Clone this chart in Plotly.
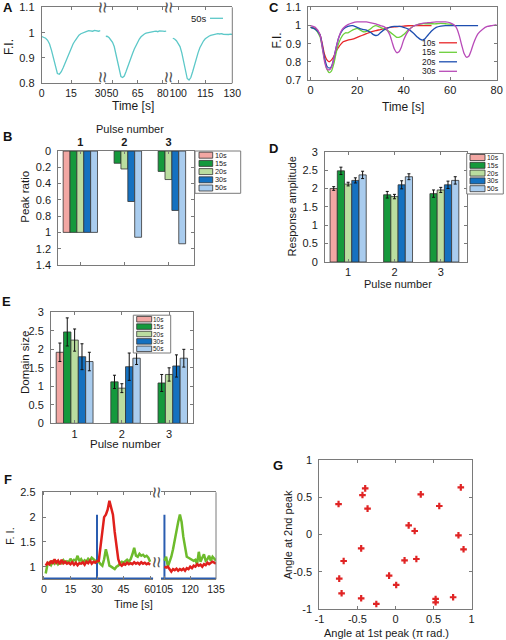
import plotly.graph_objects as go

W, H = 506, 640
FONT = "Liberation Sans, Arial, Helvetica, sans-serif"
AX = "#7a7a7a"
TXT = "#1a1a1a"

# ================= DATA =================
# Panel A : 50 s pulse train (three windows)
a_t1 = list(range(0, 31))
a_fi1 = [0.985,0.983,0.978,0.970,0.955,0.930,0.895,0.860,0.838,0.835,0.845,0.862,0.882,0.902,0.922,
         0.940,0.955,0.968,0.980,0.990,0.996,1.000,1.003,1.005,1.008,1.008,1.006,1.009,1.007,1.006,1.008]
a_t2 = list(range(46, 83))
a_fi2 = [0.986,0.985,0.980,0.972,0.962,0.945,0.915,0.878,0.845,0.826,0.822,0.828,0.845,0.865,0.885,
         0.902,0.918,0.935,0.950,0.963,0.975,0.984,0.990,0.995,0.998,1.000,1.002,1.003,1.004,1.005,
         1.006,1.004,1.007,1.005,1.006,1.005,1.006]
a_t3 = list(range(97, 131))
a_fi3 = [0.978,0.975,0.968,0.958,0.945,0.920,0.885,0.845,0.818,0.812,0.822,0.845,0.872,0.898,0.920,
         0.940,0.955,0.967,0.976,0.982,0.986,0.989,0.991,0.993,0.996,0.996,0.995,0.996,0.994,0.993,
         0.993,0.993,0.994,0.993]
a_ticks = [[0, 15, 30], [50, 65, 80], [100, 115, 130]]

# Panel C : traces for different intervals
c_labels = ["10s", "15s", "20s", "30s"]
c_t10 = [0,2,4,5,6,7,8,9,10,11,12,14,16,18,20,22,24,26,28,30,32,34,36,38,40,42,44,46,48,50,52]
c_y10 = [0.99,0.985,0.95,0.90,0.84,0.81,0.80,0.81,0.83,0.86,0.88,0.91,0.92,0.925,0.935,0.945,0.955,
         0.965,0.972,0.978,0.985,0.99,0.993,0.995,0.997,0.999,1.0,1.0,1.0,1.0,1.0]
c_t15 = [0,2,4,5,6,7,8,9,10,11,12,13,14,15,16,18,20,22,23,25,27,28,30,32,34,36,37,38,39,40,42,44,46,
         48,50,52,54,56,58,60,62]
c_y15 = [0.99,0.98,0.94,0.88,0.81,0.76,0.74,0.75,0.79,0.85,0.9,0.93,0.95,0.96,0.96,0.975,0.985,0.97,
         0.965,0.975,0.995,1.0,0.99,0.98,0.965,0.945,0.935,0.935,0.94,0.95,0.975,0.995,1.005,1.01,
         1.01,1.01,1.01,1.012,1.01,1.008,1.0]
c_t20 = [0,2,4,5,6,7,8,9,10,11,12,13,14,16,18,20,22,24,26,27,28,29,30,32,34,36,38,40,42,44,46,47,48,
         49,50,52,54,56,58,60,62,64,66,68,70,72]
c_y20 = [0.99,0.98,0.95,0.89,0.82,0.775,0.765,0.775,0.82,0.88,0.93,0.96,0.98,0.995,1.0,0.99,0.98,
         0.975,0.96,0.95,0.945,0.948,0.96,0.98,0.99,0.995,0.995,0.99,0.98,0.96,0.935,0.925,0.92,0.925,
         0.94,0.97,0.99,0.997,1.0,1.0,1.0,1.0,1.0,1.0,1.0,1.0]
c_t30 = [0,2,4,5,6,7,8,9,10,11,12,13,14,16,18,20,22,24,26,28,30,32,34,35,36,37,38,39,40,42,44,46,48,
         50,52,54,56,58,60,62,63,64,65,66,67,68,69,70,72,74,76,78,80]
c_y30 = [1.0,0.99,0.95,0.88,0.8,0.76,0.755,0.77,0.82,0.88,0.93,0.965,0.985,1.005,1.015,1.02,1.02,1.02,
         1.015,1.01,1.0,0.99,0.95,0.91,0.87,0.85,0.855,0.88,0.92,0.97,0.995,1.005,1.012,1.015,1.018,
         1.02,1.02,1.02,1.015,1.0,0.98,0.94,0.89,0.845,0.825,0.83,0.86,0.9,0.955,0.98,0.995,1.0,1.005]

# Bar panels
pulses = [1, 2, 3]
bar_labels = ["10s", "15s", "20s", "30s", "50s"]
# B : peak ratio
b_10 = [1.0, None, None]
b_15 = [1.0, 0.15, 0.25]
b_20 = [1.0, 0.22, 0.35]
b_30 = [1.0, 0.62, 0.73]
b_50 = [1.0, 1.06, 1.14]
# D : response amplitude (mean, error)
d_10 = [2.00, None, None]; d_10e = [0.05, 0, 0]
d_15 = [2.48, 1.83, 1.86]; d_15e = [0.10, 0.09, 0.10]
d_20 = [2.12, 1.78, 1.96]; d_20e = [0.05, 0.06, 0.07]
d_30 = [2.22, 2.10, 2.10]; d_30e = [0.07, 0.11, 0.10]
d_50 = [2.37, 2.32, 2.22]; d_50e = [0.10, 0.08, 0.10]
# E : domain size (mean, error)
e_10 = [1.92, None, None]; e_10e = [0.25, 0, 0]
e_15 = [2.47, 1.12, 1.09]; e_15e = [0.38, 0.18, 0.23]
e_20 = [2.25, 0.95, 1.32]; e_20e = [0.30, 0.12, 0.18]
e_30 = [1.80, 1.53, 1.55]; e_30e = [0.35, 0.37, 0.30]
e_50 = [1.67, 1.76, 1.76]; e_50e = [0.25, 0.17, 0.24]

# Panel F : single-cell traces
f_t1 = list(range(1, 61))
f_red1 = [1.02,1.08,1.05,1.12,1.06,1.15,1.08,1.12,1.05,1.14,1.07,1.10,1.06,1.08,1.05,1.09,1.04,1.08,
          1.03,1.07,1.06,1.09,1.04,1.10,1.07,1.12,1.06,1.10,1.08,1.11,
          1.12,1.40,1.75,2.00,2.05,2.15,2.33,2.20,2.05,1.70,1.40,1.15,1.05,1.02,1.06,1.04,1.08,1.05,
          1.07,1.05,1.09,1.06,1.08,1.05,1.09,1.06,1.08,1.05,1.07,1.04]
f_green1 = [0.86,1.05,1.08,1.03,1.10,1.06,1.12,1.05,1.09,1.07,1.13,1.08,1.11,1.09,1.16,1.10,1.14,1.12,
            1.22,1.11,1.15,1.09,1.13,1.10,1.16,1.12,1.18,1.14,1.12,1.10,
            1.10,1.05,1.02,1.15,1.35,1.20,1.02,1.00,0.98,0.95,1.00,1.02,1.06,1.10,1.08,1.12,1.14,1.10,
            1.15,1.25,1.38,1.22,1.20,1.26,1.22,1.24,1.20,1.22,1.18,1.10]
f_t2 = list(range(105, 136))
f_red2 = [1.00,0.98,1.00,0.96,0.90,0.95,0.93,0.96,0.92,0.95,0.93,0.96,0.92,0.97,0.95,1.00,0.97,1.02,
          1.00,1.05,1.02,1.04,1.00,1.05,1.03,1.08,1.05,1.08,1.10,1.08,1.06]
f_green2 = [1.12,1.20,1.00,1.10,1.20,1.35,1.55,1.75,1.90,2.05,1.90,1.60,1.35,1.20,1.18,1.16,1.15,1.12,
            1.14,1.05,1.30,1.10,1.18,1.25,1.12,1.15,1.22,1.12,1.20,1.15,1.12]
f_stim_t1 = [-0.7, 30, 30, 30, 61.8]
f_stim_y1 = [0.76, 0.76, 2.05, 0.76, 0.76]
f_stim_t2 = [103, 105, 105, 105, 135]
f_stim_y2 = [0.76, 0.76, 2.05, 0.76, 0.76]

# Panel G : phase angles
g_first = [-0.748,-0.398,-0.434,-0.367,0.332,0.575,0.858,0.173,0.252,0.827,0.894,-0.451,-0.681,0.119,
           0.274,-0.739,-0.084,0.009,-0.708,-0.451,-0.252,0.527,0.527,0.757]
g_second = [0.409,0.620,0.530,0.347,0.539,0.383,0.633,0.123,0.047,-0.011,-0.199,-0.186,-0.356,-0.347,
            -0.329,-0.593,-0.553,-0.678,-0.790,-0.857,-0.933,-0.866,-0.911,-0.843]

# ================= STYLE =================
bar_colors = ["#f2a7a3", "#15993c", "#badd9f", "#1571c0", "#a9ccee"]
c_colors = ["#e8262a", "#6ccf3a", "#1d4eb0", "#b84ab8"]
CYAN = "#5cc8c8"


def xd(a, b):
    return [a / W, b / W]


def yd(top, bottom):
    return [1 - bottom / H, 1 - top / H]


def X(p):
    return p / W


def Y(p):
    return 1 - p / H


def axis(**kw):
    base = dict(showgrid=False, zeroline=False, showline=True, linecolor=AX, linewidth=1,
                ticks="inside", ticklen=3, tickcolor=AX, tickwidth=1, automargin=False,
                tickfont=dict(family=FONT, size=11, color=TXT), mirror="ticks", fixedrange=True)
    base.update(kw)
    return base


SMALL_TICK = dict(family=FONT, size=10.5, color=TXT)

fig = go.Figure()

# ---- A traces
for t, v, xa in [(a_t1, a_fi1, "x"), (a_t2, a_fi2, "x2"), (a_t3, a_fi3, "x3")]:
    fig.add_trace(go.Scatter(x=t, y=v, xaxis=xa, yaxis="y", mode="lines",
                             line=dict(color=CYAN, width=1.3)))

# ---- C traces
for t, v, col in [(c_t10, c_y10, c_colors[0]), (c_t15, c_y15, c_colors[1]),
                  (c_t20, c_y20, c_colors[2]), (c_t30, c_y30, c_colors[3])]:
    fig.add_trace(go.Scatter(x=t, y=v, xaxis="x4", yaxis="y2", mode="lines",
                             line=dict(color=col, width=1.3, shape="spline", smoothing=0.6)))

# ---- B bars
for vals, col in zip([b_10, b_15, b_20, b_30, b_50], bar_colors):
    fig.add_trace(go.Bar(x=pulses, y=vals, xaxis="x5", yaxis="y3",
                         marker=dict(color=col, line=dict(color="#333", width=0.8))))

# ---- D bars
for vals, err, col in zip([d_10, d_15, d_20, d_30, d_50], [d_10e, d_15e, d_20e, d_30e, d_50e], bar_colors):
    fig.add_trace(go.Bar(x=pulses, y=vals, xaxis="x6", yaxis="y4",
                         marker=dict(color=col, line=dict(color="#333", width=0.8)),
                         error_y=dict(type="data", array=err, color="#111", thickness=1, width=1.5)))

# ---- E bars
for vals, err, col in zip([e_10, e_15, e_20, e_30, e_50], [e_10e, e_15e, e_20e, e_30e, e_50e], bar_colors):
    fig.add_trace(go.Bar(x=pulses, y=vals, xaxis="x7", yaxis="y5",
                         marker=dict(color=col, line=dict(color="#333", width=0.8)),
                         error_y=dict(type="data", array=err, color="#111", thickness=1, width=1.5)))

# ---- F traces
STIM = "#2a5db0"
fig.add_trace(go.Scatter(x=f_stim_t1, y=f_stim_y1, xaxis="x8", yaxis="y6", mode="lines",
                         line=dict(color=STIM, width=2)))
fig.add_trace(go.Scatter(x=f_stim_t2, y=f_stim_y2, xaxis="x9", yaxis="y6", mode="lines",
                         line=dict(color=STIM, width=2)))
fig.add_trace(go.Scatter(x=f_t1, y=f_green1, xaxis="x8", yaxis="y6", mode="lines",
                         line=dict(color="#6dbb2c", width=2.5)))
fig.add_trace(go.Scatter(x=f_t2, y=f_green2, xaxis="x9", yaxis="y6", mode="lines",
                         line=dict(color="#6dbb2c", width=2.5)))
fig.add_trace(go.Scatter(x=f_t1, y=f_red1, xaxis="x8", yaxis="y6", mode="lines",
                         line=dict(color="#e0201c", width=2.5)))
fig.add_trace(go.Scatter(x=f_t2, y=f_red2, xaxis="x9", yaxis="y6", mode="lines",
                         line=dict(color="#e0201c", width=2.5)))

# ---- G scatter
fig.add_trace(go.Scatter(x=g_first, y=g_second, xaxis="x10", yaxis="y7", mode="markers",
                         marker=dict(symbol="cross", size=5.5, color="#e02424")))

# ================= LAYOUT =================
layout = dict(width=W, height=H, margin=dict(l=0, r=0, t=0, b=0, pad=0, autoexpand=False),
              paper_bgcolor="white", plot_bgcolor="rgba(0,0,0,0)", showlegend=False,
              barmode="group", bargap=0.22, bargroupgap=0, font=dict(family=FONT, size=11, color=TXT))

# A
layout["xaxis"] = axis(domain=xd(41.7, 100.5), range=[-0.01, 30.01], tickvals=a_ticks[0],
                       tickfont=SMALL_TICK, anchor="y")
layout["xaxis2"] = axis(domain=xd(105, 167), range=[45.5, 82.5], tickvals=a_ticks[1],
                        tickfont=SMALL_TICK, anchor="y")
layout["xaxis3"] = axis(domain=xd(171, 232.3), range=[96, 130.01], tickvals=a_ticks[2],
                        tickfont=SMALL_TICK, anchor="y")
layout["yaxis"] = axis(domain=yd(7.3, 83.3), range=[0.799, 1.101], tickvals=[0.8, 0.9, 1, 1.1],
                       anchor="x", mirror=False, ticklabelstandoff=4)
# C
layout["xaxis4"] = axis(domain=xd(308.3, 496.7), range=[-1, 80.01], tickvals=[0, 20, 40, 60, 80], anchor="y2")
layout["yaxis2"] = axis(domain=yd(7.3, 80), range=[0.699, 1.101], tickvals=[0.7, 0.8, 0.9, 1, 1.1],
                        anchor="x4", ticklabelstandoff=4)
# B
layout["xaxis5"] = axis(domain=xd(58.3, 194), range=[0.5, 3.58], tickvals=pulses,
                        ticktext=["<b>1</b>", "<b>2</b>", "<b>3</b>"], side="top", anchor="y3")
layout["yaxis3"] = axis(domain=yd(151, 265), range=[1.401, -0.001],
                        tickvals=[0, 0.2, 0.4, 0.6, 0.8, 1, 1.2, 1.4], anchor="x5", ticklabelstandoff=4)
# D
layout["xaxis6"] = axis(domain=xd(325, 466.7), range=[0.5, 3.56], tickvals=pulses, anchor="y4")
layout["yaxis4"] = axis(domain=yd(151.7, 262), range=[0, 3.001], tickvals=[0, 0.5, 1, 1.5, 2, 2.5, 3],
                        anchor="x6", ticklabelstandoff=4)
# E
layout["xaxis7"] = axis(domain=xd(51, 192.7), range=[0.5, 3.5], tickvals=pulses, anchor="y5")
layout["yaxis5"] = axis(domain=yd(312.3, 423.3), range=[0, 3.001], tickvals=[0, 0.5, 1, 1.5, 2, 2.5, 3],
                        anchor="x7", ticklabelstandoff=4)
# F
layout["xaxis8"] = axis(domain=xd(42.7, 153.3), range=[-0.7, 61.8], tickvals=[0, 15, 30, 45, 60],
                        tickfont=SMALL_TICK, anchor="y6")
layout["xaxis9"] = axis(domain=xd(161, 216), range=[103, 135.01], tickvals=[105, 120, 135],
                        tickfont=SMALL_TICK, anchor="y6")
layout["yaxis6"] = axis(domain=yd(492.3, 579.3), range=[0.745, 2.501], tickvals=[1, 1.5, 2, 2.5],
                        anchor="x8", mirror=False, ticklabelstandoff=4)
# G
gt = [-1, -0.5, 0, 0.5, 1]
gtt = ["-1", "-0.5", "0", "0.5", "1"]
layout["xaxis10"] = axis(domain=xd(319.3, 471.7), range=[-1.001, 1.001], tickvals=gt, ticktext=gtt, anchor="y7")
layout["yaxis7"] = axis(domain=yd(460, 609), range=[-1.001, 1.001], tickvals=gt, ticktext=gtt,
                        anchor="x10", ticklabelstandoff=4)

shapes = []
annotations = []


def line_px(x0, y0, x1, y1, color=AX, width=1):
    shapes.append(dict(type="line", xref="paper", yref="paper", x0=X(x0), y0=Y(y0), x1=X(x1), y1=Y(y1),
                       line=dict(color=color, width=width)))


def rect_px(x0, y0, x1, y1, fill, color="#333", width=0.8):
    shapes.append(dict(type="rect", xref="paper", yref="paper", x0=X(x0), y0=Y(y0), x1=X(x1), y1=Y(y1),
                       fillcolor=fill, line=dict(color=color, width=width)))


def text_px(text, x, y, size=11, angle=0, xanchor="center", yanchor="middle", color=TXT):
    annotations.append(dict(text=text, xref="paper", yref="paper", x=X(x), y=Y(y), showarrow=False,
                            font=dict(family=FONT, size=size, color=color), textangle=angle,
                            xanchor=xanchor, yanchor=yanchor, borderpad=0))


def legend_box(box, rows, patch_x, text_x, ph, size=8):
    rect_px(box[0], box[1], box[2], box[3], "white", color=AX, width=1)
    for r, lab, col in zip(rows, bar_labels, bar_colors):
        rect_px(patch_x[0], r - ph / 2, patch_x[1], r + ph / 2, col)
        text_px(lab, text_x, r, size=size, xanchor="left")


# right borders of broken-axis panels
line_px(232.3, 7.3, 232.3, 83.3)
line_px(216, 492.3, 216, 579.3)

# break marks
for bx, by in [(103, 7.3), (103, 77), (169, 7.3), (169, 77), (157, 492.3), (157, 562)]:
    text_px("≈", bx, by, size=20, angle=90, color="#555")

# A legend
line_px(210, 18.3, 223, 18.3, color=CYAN, width=1.3)
text_px("50s", 208, 18.3, size=9.5, xanchor="right")

# C legend
for r, lab, col in zip([42.8, 52.3, 61.8, 71.3], c_labels, c_colors):
    line_px(439, r, 457, r, color=col, width=1.3)
    text_px(lab, 437, r, size=8.4, xanchor="right")

# bar legends
legend_box((195, 151, 240.7, 193.3), [155.2, 163.4, 171.6, 179.8, 188], (199, 212.7), 213.5, 6, 7.3)
legend_box((466.7, 153.5, 503.3, 194), [157.5, 165.3, 173.1, 180.9, 188.7], (470, 485), 485.8, 6, 6.9)
legend_box((133.3, 315.2, 170.7, 353), [319.2, 326.6, 334, 341.4, 348.8], (136.7, 151.7), 152.3, 5.5, 6.5)

# axis titles
text_px("F.I.", 8.3, 46.7, size=12, angle=-90)
text_px("Time [s]", 133.3, 106, size=12)
text_px("F.I.", 276.7, 40.7, size=12, angle=-90)
text_px("Time [s]", 403.3, 106.7, size=12)
text_px("Pulse number", 130, 128.8, size=11)
text_px("Peak ratio", 25, 196.7, size=11.5, angle=-90)
text_px("Response amplitude", 291.7, 206.7, size=11, angle=-90)
text_px("Pulse number", 398, 284.3, size=11)
text_px("Domain size", 25, 363, size=11.5, angle=-90)
text_px("Pulse number", 125, 444.3, size=11.5)
text_px("F. I.", 10, 536, size=11, angle=-90)
text_px("Time [s]", 133.3, 604, size=11)
text_px("Angle at 2nd peak", 288.3, 535, size=11, angle=-90)
text_px("Angle at 1st peak (π rad.)", 386.7, 632.7, size=11)

# panel letters
for lab, x, y in [("A", 2, 8), ("C", 268, 8), ("B", 1.7, 136.7), ("D", 268, 148.3),
                  ("E", 0.7, 301.7), ("F", 3, 479), ("G", 272, 465)]:
    text_px("<b>%s</b>" % lab, x, y, size=13, xanchor="left", color="#111")

layout["shapes"] = shapes
layout["annotations"] = annotations
fig.update_layout(**layout)

fig.write_html("out.html", config={"displayModeBar": False},
               post_script="document.body.style.margin='0';document.body.style.padding='0';"
                           "document.body.style.overflow='hidden';")
